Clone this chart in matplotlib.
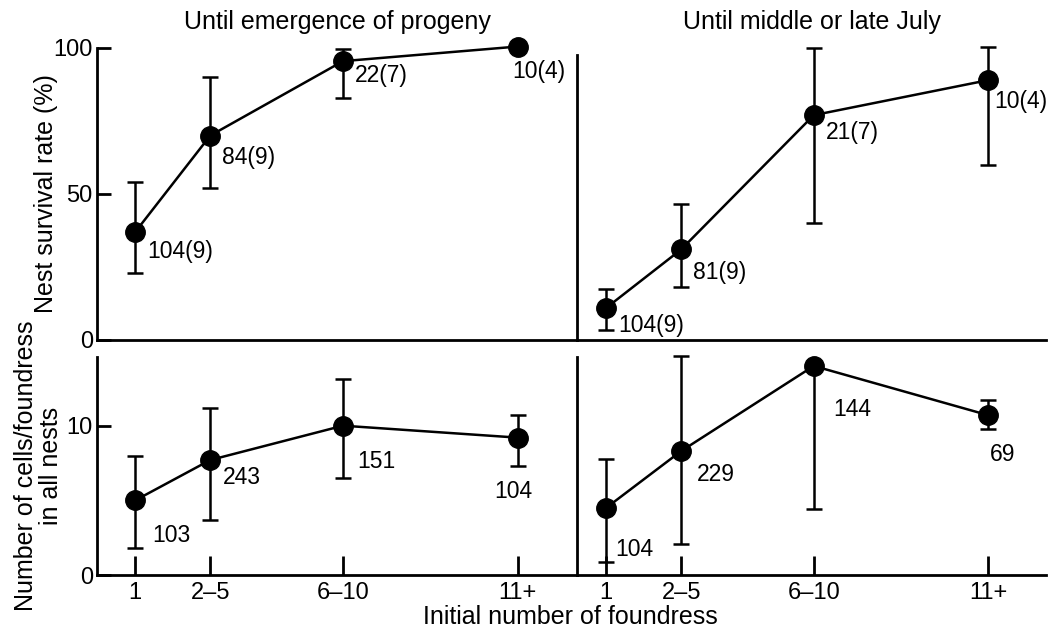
import numpy as np
import matplotlib.pyplot as plt

plt.rcParams['font.family'] = ['Liberation Sans', 'DejaVu Sans']

# categories on the x axis
groups = ["1", "2\u20135", "6\u201310", "11+"]
xpos = [1, 2, 3.77, 6.1]

# nest survival rate (%)
surv_emerg = [37, 70, 95.5, 100.5]
surv_emerg_lo = [23, 52, 83, 100.5]
surv_emerg_hi = [54, 90, 99.5, 100.5]
surv_emerg_n = ["104(9)", "84(9)", "22(7)", "10(4)"]

surv_july = [11, 31, 77, 89]
surv_july_lo = [3.5, 18, 40, 60]
surv_july_hi = [17.5, 46.5, 100, 100.5]
surv_july_n = ["104(9)", "81(9)", "21(7)", "10(4)"]

# cells per foundress
cells_emerg = [5.0, 7.7, 10.0, 9.2]
cells_emerg_lo = [1.8, 3.7, 6.5, 7.3]
cells_emerg_hi = [8.0, 11.2, 13.1, 10.7]
cells_emerg_n = ["103", "243", "151", "104"]

cells_july = [4.5, 8.3, 14.0, 10.7]
cells_july_lo = [0.9, 2.1, 4.4, 9.8]
cells_july_hi = [7.8, 14.7, 14.0, 11.7]
cells_july_n = ["104", "229", "144", "69"]

W, H = 1063, 631
fig = plt.figure(figsize=(W / 100, H / 100), dpi=100)
fig.patch.set_facecolor("white")


def px_axes(x0, y0, x1, y1):
    # pixel box (left, top, right, bottom) -> figure fraction
    return fig.add_axes([x0 / W, 1 - y1 / H, (x1 - x0) / W, (y1 - y0) / H])


ax_tl = px_axes(97, 48, 577, 340)
ax_tr = px_axes(577, 48, 1046, 340)
ax_bl = px_axes(97, 357, 577, 575)
ax_br = px_axes(577, 357, 1046, 575)

FS = 16.5   # point labels
TFS = 17    # tick labels
LFS = 18    # titles / axis labels


def draw(ax, y, lo, hi, labels, offsets):
    y = np.array(y)
    yerr = [y - np.array(lo), np.array(hi) - y]
    ax.errorbar(xpos, y, yerr=yerr, color="black", lw=1.8, elinewidth=1.8,
                capsize=5.5, capthick=1.8, marker="o", ms=14, mfc="black",
                mec="black", clip_on=False, zorder=3)
    for xi, yi, lab, off in zip(xpos, y, labels, offsets):
        ax.annotate(lab, (xi, yi), xytext=off, textcoords="offset pixels",
                    fontsize=FS, ha="left", va="top", annotation_clip=False)
    for s in ["top", "right"]:
        ax.spines[s].set_visible(False)
    for s in ["left", "bottom"]:
        ax.spines[s].set_linewidth(2)


draw(ax_tl, surv_emerg, surv_emerg_lo, surv_emerg_hi, surv_emerg_n,
     [(12, -8), (12, -10), (12, -3), (-6, -13)])
draw(ax_tr, surv_july, surv_july_lo, surv_july_hi, surv_july_n,
     [(12, -6), (12, -12), (12, -6), (6, -10)])
draw(ax_bl, cells_emerg, cells_emerg_lo, cells_emerg_hi, cells_emerg_n,
     [(17, -24), (13, -6), (14, -24), (-24, -42)])
draw(ax_br, cells_july, cells_july_lo, cells_july_hi, cells_july_n,
     [(9, -30), (16, -12), (20, -32), (2, -28)])

ax_tl.set_xlim(0.49, 6.89)
ax_bl.set_xlim(0.49, 6.89)
ax_tr.set_xlim(0.61, 6.87)
ax_br.set_xlim(0.61, 6.87)

ax_tl.set_ylim(0, 100)
ax_tr.set_ylim(0, 100)
ax_bl.set_ylim(0, 14.6)
ax_br.set_ylim(0, 14.6)
ax_tr.spines["left"].set_bounds(0, 97.5)

ax_tl.set_yticks([0, 50, 100])
ax_bl.set_yticks([0, 10])
ax_tr.set_yticks([])
ax_br.set_yticks([])
ax_tl.set_xticks([])
ax_tr.set_xticks([])
for ax in [ax_bl, ax_br]:
    ax.set_xticks(xpos)
    ax.set_xticklabels(groups)
for ax in [ax_tl, ax_bl, ax_tr, ax_br]:
    ax.tick_params(axis="y", direction="in", length=10, width=2,
                   labelsize=TFS, pad=3)
    ax.tick_params(axis="x", direction="in", length=14, width=2,
                   labelsize=TFS, pad=5)

ax_tl.set_title("Until emergence of progeny", fontsize=LFS, pad=14)
ax_tr.set_title("Until middle or late July", fontsize=LFS, pad=14)
ax_tl.set_ylabel("Nest survival rate (%)", fontsize=LFS, labelpad=-3)
ax_bl.set_ylabel("Number of cells/foundress\nin all nests", fontsize=LFS,
                 labelpad=2.5, linespacing=1.05)
fig.text(570 / W, 1 - 617 / H, "Initial number of foundress", fontsize=LFS,
         ha="center", va="center")

fig.savefig("out.png", dpi=100, facecolor="white")
